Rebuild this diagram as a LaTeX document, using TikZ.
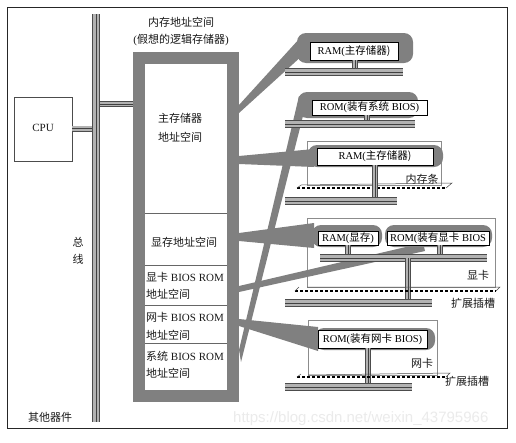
\documentclass[tikz,border=0pt]{standalone}
\usepackage{fontspec}
\setmainfont{Liberation Serif}
\newfontfamily\cjk{Noto Sans CJK SC}
\newfontfamily\wmfont{Liberation Sans}
\begin{document}
\begin{tikzpicture}[x=1pt,y=-1pt,
  vbus/.style={line width=6pt, draw=black!30, preaction={draw=black!70,line width=8pt}, postaction={draw=black!75,line width=0.7pt}},
  sbus/.style={line width=4.4pt, draw=black!30, preaction={draw=black!70,line width=6pt}, postaction={draw=black!75,line width=0.6pt}},
  band/.style={fill=black!50},
  blob/.style={fill=black!50, rounded corners=9pt, inner sep=0pt},
  lbl/.style={draw=black, fill=white, line width=0.6pt, inner sep=0pt, font=\fontsize{10.5}{12}\selectfont},
  cardbox/.style={draw=black!45, fill=white, line width=0.6pt, inner sep=0pt},
  txt/.style={font=\fontsize{11}{13}\selectfont, inner sep=0pt, text=black!90},
  slottop/.style={draw=black!70, line width=0.5pt},
  slotdash/.style={draw=black, line width=1.6pt, dash pattern=on 3pt off 2pt}
]
\useasboundingbox (0,0) rectangle (516,442);
\fill[white] (0,0) rectangle (516,442);
% watermark
\node[font=\wmfont\fontsize{15}{15}\selectfont, text=black!8, anchor=west, inner sep=0pt] (wm) at (233,419) {https://blog.csdn.net/weixin\_43795966};
% outer frame
\draw[black!85, line width=0.9pt] (7,7) rectangle (507,428);

% main bus and connectors
\coordinate (bustop) at (96,14);
\coordinate (busbot) at (96,422);
\node[draw=black!70, fill=white, line width=0.6pt, minimum width=58pt, minimum height=64pt, inner sep=0pt] (cpu) at (43,129) {};
\node[txt] (cputxt) at (43,128) {CPU};
\coordinate (cpuj) at (96,128.5);
\coordinate (memj) at (96,104);
\coordinate (memin) at (133,104);
\draw[sbus] (cpu.east |- cpuj) -- (cpuj);
\draw[sbus] (memj) -- (memin);
\draw[vbus] (bustop) -- (busbot);

% card boxes
\node[cardbox, minimum width=134pt, minimum height=44pt] (strip) at (374,163) {};
\node[cardbox, minimum width=188pt, minimum height=69pt] (vcard) at (401,252.5) {};
\node[cardbox, minimum width=129pt, minimum height=55pt] (ncard) at (372.5,347.5) {};

% gray bands
\fill[band] (239,105) -- (239,113) -- (304,54) -- (300,38) -- cycle;
\fill[band] (239,156) -- (239,164) -- (314,167) -- (314,149) -- cycle;
\fill[band] (239,350) -- (241,362) -- (307,100) -- (299,96) -- cycle;
\fill[band] (239,233) -- (239,241) -- (314,248) -- (314,223) -- cycle;
\fill[band] (239,286) -- (239,292) -- (425,251) -- (423,243) -- cycle;
\fill[band] (239,319) -- (239,326) -- (318,351) -- (318,327) -- cycle;

% top RAM
\node[blob, minimum width=116pt, minimum height=30pt] (b1) at (355,48) {};
\node[lbl, minimum width=88pt, minimum height=18pt] (l1) at (354,51) {RAM(\cjk 主存储器)};
\draw[sbus] (355,60) -- (355,72);
\draw[vbus] (285,72) -- (403,72);

% system BIOS ROM
\node[blob, minimum width=120pt, minimum height=26pt] (b2) at (358,105) {};
\node[lbl, minimum width=115pt, minimum height=15pt] (l2) at (369.5,107.5) {ROM(\cjk 装有系统\rmfamily{} BIOS)};
\draw[sbus] (367,115) -- (367,124);
\draw[vbus] (285,124) -- (415,124);

% memory strip
\node[blob, minimum width=135pt, minimum height=22pt] (b3) at (375.5,156) {};
\node[lbl, minimum width=116pt, minimum height=17pt] (l3) at (375,156.5) {RAM(\cjk 主存储器)};
\node[txt] (t3) at (422,179) {\cjk 内存条};
\draw[slottop] (301,185) -- (452,183) -- (446,188);
\draw[slotdash] (297,188) -- (446,188);
\draw[slottop] (297,188) -- (301,185);
\draw[sbus] (375,165) -- (375,201);
\draw[vbus] (285,201) -- (397,201);

% video card
\node[blob, minimum width=70pt, minimum height=22pt] (b4a) at (347,236) {};
\node[lbl, minimum width=60pt, minimum height=14pt] (l4a) at (348,238) {RAM(\cjk 显存\rmfamily)};
\node[blob, minimum width=107pt, minimum height=22pt] (b4b) at (438.5,236) {};
\node[lbl, minimum width=102pt, minimum height=14pt] (l4b) at (438,238) {ROM(\cjk 装有显卡\rmfamily{} BIOS};
\draw[sbus] (348,245) -- (348,258);
\draw[sbus] (440,245) -- (440,258);
\draw[vbus] (320,258) -- (487,258);
\draw[sbus] (408,258) -- (408,303);
\node[txt] (t4) at (478,275) {\cjk 显卡};
\draw[slottop] (307,287) -- (500,287) -- (496,291);
\draw[slotdash] (295,291) -- (496,291);
\draw[slottop] (295,291) -- (299,287);
\draw[vbus] (285,303) -- (432,303);
\node[txt] (t4s) at (473,303) {\cjk 扩展插槽};

% network card
\node[blob, minimum width=120pt, minimum height=22pt] (b5) at (375,339) {};
\node[lbl, minimum width=109pt, minimum height=18pt] (l5) at (372.5,339) {ROM(\cjk 装有网卡\rmfamily{} BIOS)};
\draw[sbus] (368,348) -- (368,387);
\node[txt] (t5) at (422,363) {\cjk 网卡};
\draw[slottop] (308,375) -- (450,373) -- (446,377);
\draw[slotdash] (297,377) -- (446,377);
\draw[slottop] (297,377) -- (301,374);
\draw[vbus] (285,387) -- (412,387);
\node[txt] (t5s) at (467,381) {\cjk 扩展插槽};

% memory address space frame
\fill[white] (139,58) rectangle (233,395.5);
\draw[black!50, line width=12pt] (139,58) rectangle (233,395.5);
\foreach \yy in {213,265,305,343} \draw[black!60, line width=0.6pt] (145,\yy) -- (227,\yy);
\node[txt] (title1) at (181,22) {\cjk 内存地址空间};
\node[txt] (title2) at (181,40) {(\cjk 假想的逻辑存储器\rmfamily)};
\node[txt] (r1a) at (180,118) {\cjk 主存储器};
\node[txt] (r1b) at (180,137) {\cjk 地址空间};
\node[txt] (r2) at (184,242) {\cjk 显存地址空间};
\node[txt, anchor=west] (r3a) at (146,277) {\cjk 显卡\rmfamily{} BIOS ROM};
\node[txt, anchor=west] (r3b) at (146,294) {\cjk 地址空间};
\node[txt, anchor=west] (r4a) at (146,317) {\cjk 网卡\rmfamily{} BIOS ROM};
\node[txt, anchor=west] (r4b) at (146,335) {\cjk 地址空间};
\node[txt, anchor=west] (r5a) at (146,356) {\cjk 系统\rmfamily{} BIOS ROM};
\node[txt, anchor=west] (r5b) at (146,373) {\cjk 地址空间};

% bus labels
\node[txt] (z1) at (78,242) {\cjk 总};
\node[txt] (z2) at (78,259) {\cjk 线};
\node[txt] (other) at (50,417) {\cjk 其他器件};
\end{tikzpicture}
\end{document}
